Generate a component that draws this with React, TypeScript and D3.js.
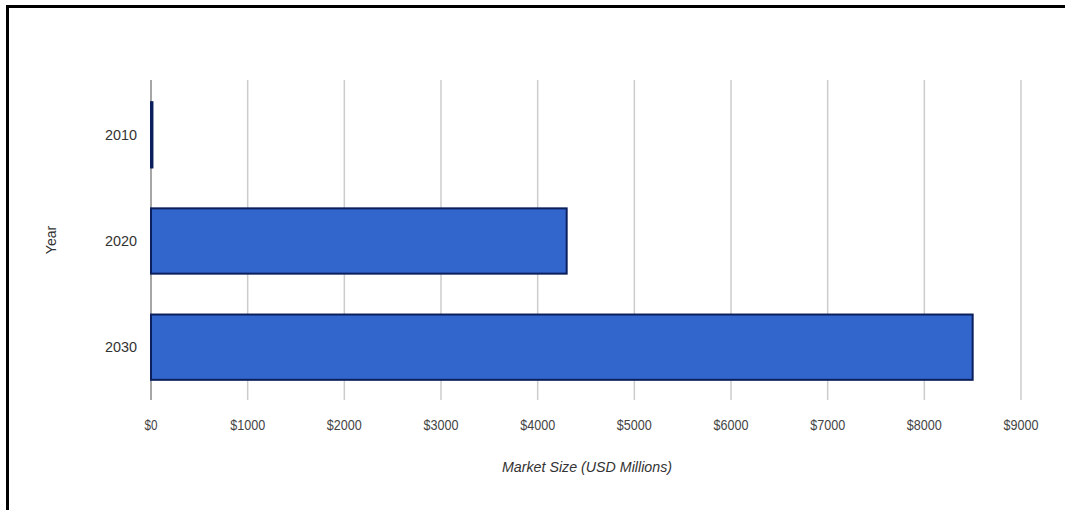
import React from "react";
import * as d3 from "d3";

const years = ["2010", "2020", "2030"];
const marketSize = [15, 4300, 8500];
const xTicks = [0, 1000, 2000, 3000, 4000, 5000, 6000, 7000, 8000, 9000];
const xTitle = "Market Size (USD Millions)";
const yTitle = "Year";

export default function App() {
  const W = 1065, H = 510;
  const left = 151, right = 1021, top = 82, bottom = 400;
  const x = d3.scaleLinear().domain([0, 9000]).range([left, right]);
  const y = d3.scaleBand().domain(years).range([top, bottom]).paddingInner(0.385).paddingOuter(0.19);
  const font = "'Liberation Sans', Arial, sans-serif";
  return (
    <svg width={W} height={H} style={{ position: "absolute", left: 0, top: 0, background: "#fff" }}>
      <line x1={7.5} y1={6} x2={7.5} y2={H} stroke="#000" strokeWidth={3} />
      <line x1={6} y1={6.5} x2={W} y2={6.5} stroke="#000" strokeWidth={3} />
      {xTicks.map((t) => (
        <g key={t}>
          <line x1={x(t)} x2={x(t)} y1={80} y2={400} stroke={t === 0 ? "#888" : "#ccc"} strokeWidth={1.5} />
          <text x={x(t)} y={430} textAnchor="middle" fontFamily={font} fontSize={14.5} fill="#444" textLength={t === 0 ? 13 : 35} lengthAdjust="spacingAndGlyphs">
            {"$" + t}
          </text>
        </g>
      ))}
      {years.map((yr, i) => (
        <g key={yr}>
          <rect
            x={x(0)}
            y={y(yr)!}
            width={x(marketSize[i]) - x(0)}
            height={y.bandwidth()}
            fill="#3366cc"
            stroke="#0a1f5c"
            strokeWidth={2}
          />
          <text x={137} y={y(yr)! + y.bandwidth() / 2 + 5} textAnchor="end" fontFamily={font} fontSize={14.5} fill="#333" textLength={32} lengthAdjust="spacingAndGlyphs">
            {yr}
          </text>
        </g>
      ))}
      <text x={587} y={472} textAnchor="middle" fontFamily={font} fontSize={14.5} fontStyle="italic" fill="#333" textLength={170} lengthAdjust="spacingAndGlyphs">
        {xTitle}
      </text>
      <text transform={`translate(56,240) rotate(-90)`} textAnchor="middle" fontFamily={font} fontSize={14} fill="#333">
        {yTitle}
      </text>
    </svg>
  );
}
